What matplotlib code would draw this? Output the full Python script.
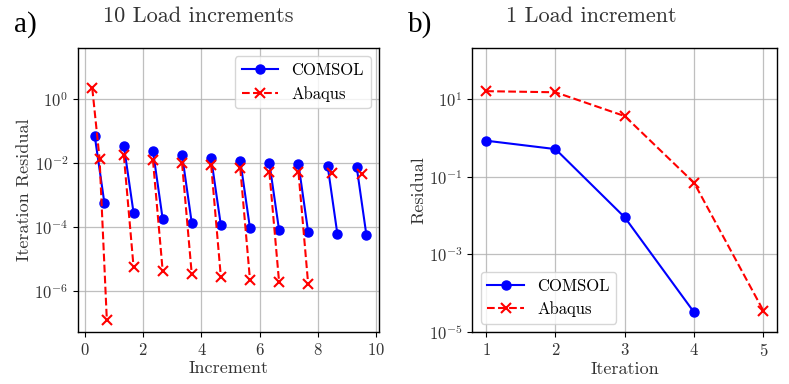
import numpy as np
import matplotlib
matplotlib.use("Agg")
import matplotlib.pyplot as plt

plt.rcParams['font.family'] = ['cmr10', 'DejaVu Serif']
plt.rcParams['mathtext.fontset'] = 'cm'
plt.rcParams['axes.formatter.use_mathtext'] = True
plt.rcParams['axes.unicode_minus'] = False

# ---- Panel a) data: residuals per load increment ----
comsol_inc = [
    [0.071, 5.5e-4],
    [0.035, 2.8e-4],
    [0.024, 1.8e-4],
    [0.018, 1.33e-4],
    [0.014, 1.12e-4],
    [0.0118, 9.1e-5],
    [0.0100, 7.9e-5],
    [0.0091, 6.8e-5],
    [0.0083, 6.2e-5],
    [0.0074, 5.5e-5],
]
abaqus_inc = [
    [2.15, 0.0136, 1.18e-7],
    [0.0174, 5.7e-6],
    [0.0124, 4.3e-6],
    [0.0098, 3.3e-6],
    [0.0085, 2.7e-6],
    [0.0068, 2.2e-6],
    [0.0052, 1.87e-6],
    [0.0051, 1.58e-6],
    [0.0050],
    [0.0045],
]

# ---- Panel b) data: single load increment ----
iterations_comsol = [1, 2, 3, 4]
residual_comsol = [0.84, 0.51, 0.0089, 3.2e-5]
iterations_abaqus = [1, 2, 3, 4, 5]
residual_abaqus = [15.8, 14.8, 3.6, 0.069, 3.5e-5]

xticks_a = [0, 2, 4, 6, 8, 10]
yticks_a = [1e0, 1e-2, 1e-4, 1e-6]
xticks_b = [1, 2, 3, 4, 5]
yticks_b = [1e1, 1e-1, 1e-3, 1e-5]

fig = plt.figure(figsize=(7.89, 3.84), dpi=100)
ax1 = fig.add_axes([0.0989, 0.1354, 0.3815, 0.7396])
ax2 = fig.add_axes([0.5986, 0.1354, 0.3866, 0.7396])

tc = '#333333'
lab_fs = 13
tick_fs = 12
ms = 6.5

def style(ax):
    ax.set_yscale('log')
    ax.grid(True, color='#b0b0b0', linewidth=0.9, alpha=0.8)
    ax.set_axisbelow(True)
    ax.minorticks_off()
    ax.tick_params(labelsize=tick_fs, colors='black', labelcolor=tc, direction='out', length=3.5)
    for s in ax.spines.values():
        s.set_linewidth(1.0)

# panel a
for i, ys in enumerate(comsol_inc):
    n = len(ys)
    xs = [i + (k + 1) / (n + 1) for k in range(n)]
    ax1.plot(xs, ys, '-o', color='blue', lw=1.5, ms=ms, label='COMSOL' if i == 0 else None)
for i, ys in enumerate(abaqus_inc):
    n = len(ys)
    xs = [i + (k + 1) / (n + 1) for k in range(n)]
    ax1.plot(xs, ys, '--x', color='red', lw=1.5, ms=ms, mew=1.5, label='Abaqus' if i == 0 else None)
style(ax1)
ax1.set_xlim(-0.24, 10.1)
ax1.set_ylim(10**-7.29, 10**1.6)
ax1.set_xticks(xticks_a)
ax1.set_yticks(yticks_a)
ax1.set_xlabel('Increment', fontsize=lab_fs, color=tc, labelpad=2)
ax1.set_ylabel('Iteration Residual', fontsize=lab_fs, color=tc, labelpad=2)
ax1.set_title('10 Load increments', fontsize=16, color=tc, pad=19, x=0.40)
ax1.legend(loc='upper right', fontsize=12, handlelength=2.2, framealpha=0.8,
           borderpad=0.4, labelspacing=0.45)

# panel b
ax2.plot(iterations_comsol, residual_comsol, '-o', color='blue', lw=1.5, ms=ms, label='COMSOL')
ax2.plot(iterations_abaqus, residual_abaqus, '--x', color='red', lw=1.5, ms=ms, mew=1.5, label='Abaqus')
style(ax2)
ax2.set_xlim(0.8, 5.2)
ax2.set_ylim(1e-5, 10**2.31)
ax2.set_xticks(xticks_b)
ax2.set_yticks(yticks_b)
ax2.set_xlabel('Iteration', fontsize=lab_fs, color=tc, labelpad=2)
ax2.set_ylabel('Residual', fontsize=lab_fs, color=tc, labelpad=2)
ax2.set_title('1 Load increment', fontsize=16, color=tc, pad=19, x=0.39)
ax2.legend(loc='lower left', fontsize=12, handlelength=2.2, framealpha=0.8,
           borderpad=0.4, labelspacing=0.45)

fig.text(0.032, 0.935, 'a)', fontsize=21, family='Liberation Serif', va='center', ha='center')
fig.text(0.533, 0.935, 'b)', fontsize=21, family='Liberation Serif', va='center', ha='center')

fig.savefig('out.png', dpi=100)
